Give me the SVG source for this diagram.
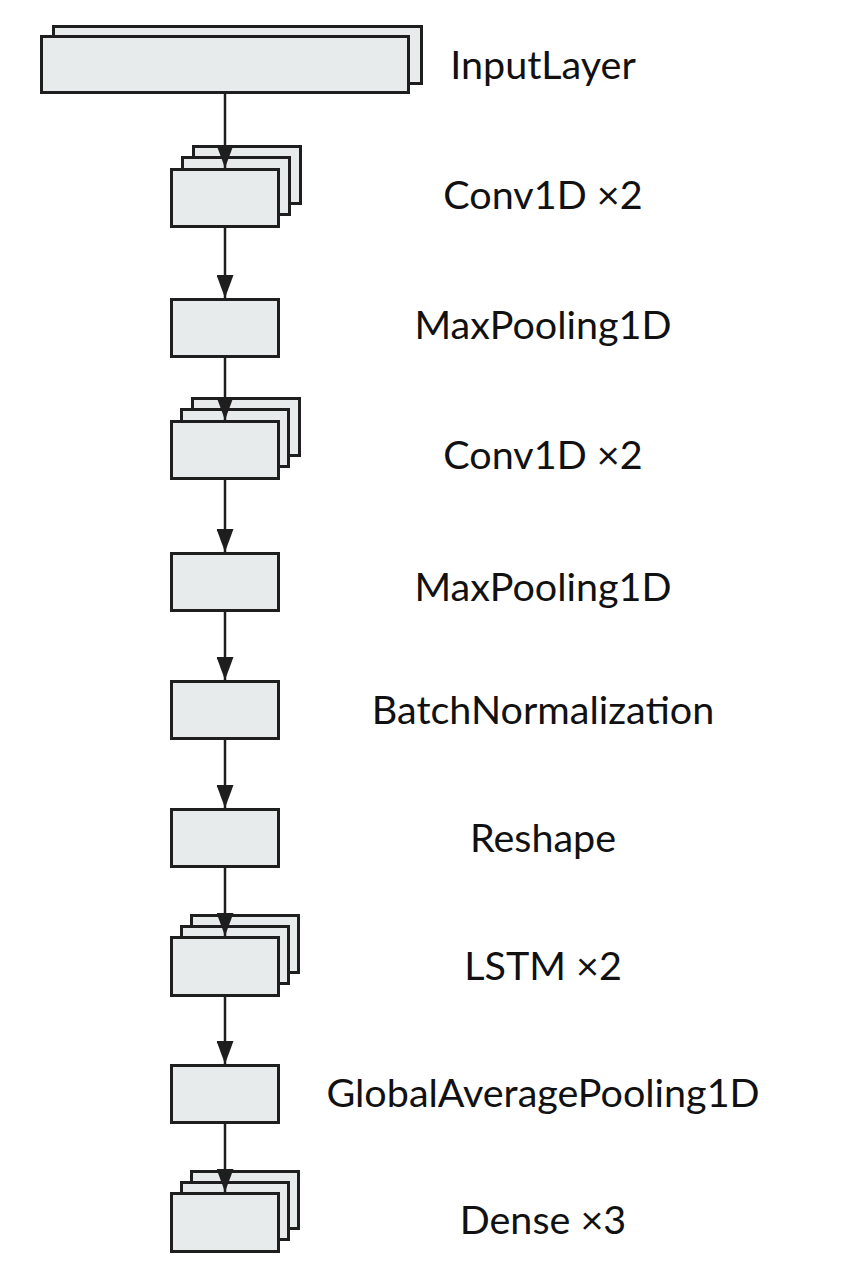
<svg xmlns="http://www.w3.org/2000/svg" width="868" height="1280" viewBox="0 0 868 1280">
<style>
.box{fill:#e8ebec;stroke:#1e1e1e;stroke-width:3}
.lbl{font-family:Lato,"Liberation Sans",sans-serif;font-size:39.5px;fill:#111;text-anchor:middle}
.edge{stroke:#1e1e1e;stroke-width:2.5;fill:none;marker-end:url(#ah)}
</style>
<defs>
<marker id="ah" markerUnits="userSpaceOnUse" markerWidth="23" markerHeight="17" refX="23" refY="8.5" orient="auto" viewBox="0 0 23 17">
<path d="M0,0 L23,8.5 L0,17 Z" fill="#1e1e1e"/>
</marker>
</defs>
<rect width="868" height="1280" fill="#fff"/>
<g id="n_input">
<rect class="box" x="53.5" y="26.5" width="368" height="57"/>
<rect class="box" x="41.5" y="36.5" width="367" height="56"/>
<text class="lbl" x="543" y="79">InputLayer</text>
</g>
<g id="n_conv1">
<rect class="box" x="193.5" y="146.5" width="107" height="57"/>
<rect class="box" x="182.5" y="157.5" width="107" height="57"/>
<rect class="box" x="171.5" y="169.5" width="107" height="57"/>
<text class="lbl" x="543" y="209">Conv1D ×2</text>
</g>
<g id="n_mp1">
<rect class="box" x="171.5" y="299.5" width="107" height="57"/>
<text class="lbl" x="543" y="339">MaxPooling1D</text>
</g>
<g id="n_conv2">
<rect class="box" x="192.5" y="398.5" width="107" height="57"/>
<rect class="box" x="181.5" y="409.5" width="107" height="57"/>
<rect class="box" x="171.5" y="421.5" width="107" height="57"/>
<text class="lbl" x="543" y="469">Conv1D ×2</text>
</g>
<g id="n_mp2">
<rect class="box" x="171.5" y="553.5" width="107" height="57"/>
<text class="lbl" x="543" y="601">MaxPooling1D</text>
</g>
<g id="n_bn">
<rect class="box" x="171.5" y="681.5" width="107" height="57"/>
<text class="lbl" x="543" y="724">BatchNormalization</text>
</g>
<g id="n_reshape">
<rect class="box" x="171.5" y="809.5" width="107" height="57"/>
<text class="lbl" x="543" y="852">Reshape</text>
</g>
<g id="n_lstm">
<rect class="box" x="191.5" y="915.5" width="107" height="57"/>
<rect class="box" x="181.5" y="926.5" width="107" height="57"/>
<rect class="box" x="171.5" y="937.5" width="107" height="58"/>
<text class="lbl" x="543" y="980">LSTM ×2</text>
</g>
<g id="n_gap">
<rect class="box" x="171.5" y="1065.5" width="107" height="57"/>
<text class="lbl" x="543" y="1107">GlobalAveragePooling1D</text>
</g>
<g id="n_dense">
<rect class="box" x="191.5" y="1171.5" width="107" height="57"/>
<rect class="box" x="181.5" y="1182.5" width="107" height="57"/>
<rect class="box" x="171.5" y="1193.5" width="107" height="58"/>
<text class="lbl" x="543" y="1234">Dense ×3</text>
</g>
<g id="connectors">
<line class="edge" x1="225" y1="93" x2="225" y2="168"/>
<line class="edge" x1="225" y1="227" x2="225" y2="298"/>
<line class="edge" x1="225" y1="357" x2="225" y2="420"/>
<line class="edge" x1="225" y1="479" x2="225" y2="552"/>
<line class="edge" x1="225" y1="611" x2="225" y2="680"/>
<line class="edge" x1="225" y1="739" x2="225" y2="808"/>
<line class="edge" x1="225" y1="867" x2="225" y2="936"/>
<line class="edge" x1="225" y1="996" x2="225" y2="1064"/>
<line class="edge" x1="225" y1="1123" x2="225" y2="1192"/>
</g>
</svg>
